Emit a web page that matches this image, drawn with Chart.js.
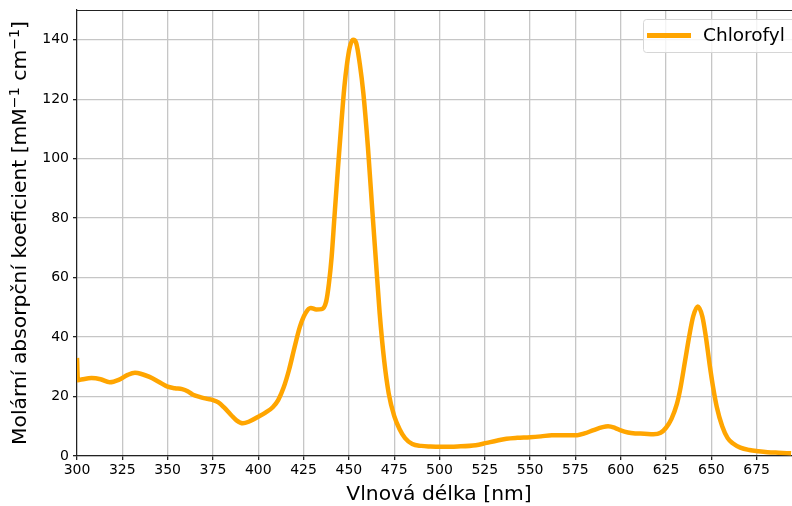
<!DOCTYPE html>
<html>
<head>
<meta charset="utf-8">
<script src="https://cdn.jsdelivr.net/npm/chart.js@4"></script>
<style>
  html, body { margin: 0; padding: 0; background: #fff; }
  #wrap { width: 792px; height: 506px; position: relative; }
</style>
</head>
<body>
<div id="wrap"><canvas id="absChart"></canvas></div>
<script>
// wavelength [nm] and molar absorption coefficient
const wavelengths = [300, 300.5, 303, 308, 313, 318, 323, 328, 332, 336, 340, 345, 350, 354, 358, 361, 364, 368, 372, 375,
  378, 381, 385, 388, 391.5, 395, 400, 404, 408, 411, 414, 417, 420, 423, 426, 429, 432, 435, 437.5, 439,
  440.5, 442, 444, 446, 447.5, 449, 450.5, 452.3, 454, 456, 458, 460.5, 463, 465, 467, 469.5, 472, 475, 478, 481, 485,
  490, 495, 500, 510, 520, 526, 532, 537, 543, 550, 556, 562, 570, 576, 580, 585, 590, 593, 597, 600,
  604, 608, 613, 618, 622, 625, 628, 631, 633, 635.5, 638, 640, 642.5, 645, 647, 649, 651, 653, 656, 659,
  662, 666, 671, 676, 681, 687, 694];
const absorption = [33, 25.5, 25.8, 26.2, 25.8, 24.8, 25.6, 27.3, 28, 27.5, 26.6, 25, 23.3, 22.8, 22.5, 21.8, 20.6, 19.8, 19.2, 18.8,
  18, 16.4, 13.8, 12, 11, 11.6, 13.2, 14.6, 16.4, 18.8, 23, 29, 36.5, 43.5, 48, 49.8, 49.3, 49.4, 52, 58,
  67, 80, 97, 113, 124, 132, 137.5, 140, 139, 132, 122, 104, 82, 65, 48, 32, 21, 13.5, 9, 6, 4,
  3.4, 3.2, 3.1, 3.2, 3.6, 4.4, 5.2, 5.8, 6.1, 6.3, 6.6, 7, 7, 7, 7.6, 8.7, 9.7, 10, 9.4, 8.6,
  7.9, 7.6, 7.5, 7.3, 7.8, 9.5, 12.5, 17.5, 23, 32, 41, 47, 50.3, 47, 40, 31, 23, 16.5, 10, 6,
  4.2, 2.8, 2, 1.6, 1.3, 1.1, 0.9];
const xTicks = [300, 325, 350, 375, 400, 425, 450, 475, 500, 525, 550, 575, 600, 625, 650, 675];
const yTicks = [0, 20, 40, 60, 80, 100, 120, 140];
const seriesName = "Chlorofyl";
const xTitle = "Vlnová délka [nm]";
// y title pieces: [text, superscript?]
const yTitleParts = [["Molární absorpční koeficient [mM", false], ["−1", true], [" cm", false], ["−1", true], ["]", false]];

const FONT = "'DejaVu Sans', sans-serif";
const ORANGE = '#FFA500';
const GRID = '#c6c6c6';
const TITLE_SIZE = 20.3;

// top spine, axis titles (y with real superscripts), matplotlib-like legend box
const framePlugin = {
  id: 'frame',
  afterDraw(chart) {
    const { ctx, chartArea } = chart;
    ctx.save();
    ctx.strokeStyle = '#222';
    ctx.lineWidth = 1.2;
    ctx.beginPath();
    ctx.moveTo(chartArea.left, chartArea.top + 0.5);
    ctx.lineTo(chartArea.right, chartArea.top + 0.5);
    ctx.stroke();

    const big = TITLE_SIZE + 'px ' + FONT;
    const small = (TITLE_SIZE * 0.7).toFixed(1) + 'px ' + FONT;
    ctx.fillStyle = '#000';
    ctx.textBaseline = 'middle';

    // x axis title (the original axes run a little past the cropped right edge)
    ctx.font = big;
    ctx.textAlign = 'center';
    ctx.fillText(xTitle, 439, 495);
    ctx.textAlign = 'left';

    // y axis title
    let total = 0;
    yTitleParts.forEach(([t, sup]) => { ctx.font = sup ? small : big; total += ctx.measureText(t).width; });
    ctx.translate(21, (chartArea.top + chartArea.bottom) / 2);
    ctx.rotate(-Math.PI / 2);
    let x = -total / 2;
    yTitleParts.forEach(([t, sup]) => {
      ctx.font = sup ? small : big;
      ctx.fillText(t, x, sup ? -6 : 0);
      x += ctx.measureText(t).width;
    });
    ctx.setTransform(1, 0, 0, 1, 0, 0);

    // legend
    const bx = 643, by = 19, bw = 160, bh = 33, r = 3;
    ctx.fillStyle = 'rgba(255,255,255,0.8)';
    ctx.strokeStyle = '#d6d6d6';
    ctx.lineWidth = 1;
    ctx.beginPath();
    ctx.roundRect(bx + 0.5, by + 0.5, bw, bh, r);
    ctx.fill();
    ctx.stroke();
    ctx.strokeStyle = ORANGE;
    ctx.lineWidth = 5;
    ctx.beginPath();
    ctx.moveTo(647, 35.5);
    ctx.lineTo(691, 35.5);
    ctx.stroke();
    ctx.fillStyle = '#000';
    ctx.font = '18.5px ' + FONT;
    ctx.fillText(seriesName, 703, 36);
    ctx.restore();
  }
};

const points = wavelengths.map((x, i) => ({ x, y: absorption[i] }));

new Chart(document.getElementById('absChart'), {
  type: 'line',
  data: {
    datasets: [{
      label: seriesName,
      data: points,
      borderColor: ORANGE,
      backgroundColor: ORANGE,
      borderWidth: 4.5,
      pointRadius: 0,
      fill: false,
      cubicInterpolationMode: 'monotone'
    }]
  },
  options: {
    responsive: true,
    maintainAspectRatio: false,
    animation: false,
    layout: { padding: { top: 10, right: 0, left: 0, bottom: 0 } },
    plugins: { legend: { display: false }, tooltip: { enabled: false } },
    scales: {
      x: {
        type: 'linear',
        min: 300,
        max: 694.5,
        afterBuildTicks: scale => { scale.ticks = xTicks.map(v => ({ value: v })); },
        afterFit: scale => { scale.height = 50; scale.paddingLeft = 0; scale.paddingRight = 0; },
        ticks: { color: '#000', font: { family: FONT, size: 14 }, padding: 2, maxRotation: 0 },
        grid: { color: GRID, lineWidth: 1.3, tickLength: 4, tickColor: '#222' },
        border: { color: '#222', width: 1.2 },
        title: { display: false }
      },
      y: {
        min: 0,
        max: 150,
        afterBuildTicks: scale => { scale.ticks = yTicks.map(v => ({ value: v })); },
        afterFit: scale => { scale.width = 77; scale.paddingTop = 0; scale.paddingBottom = 0; },
        ticks: { color: '#000', font: { family: FONT, size: 14 }, padding: 4 },
        grid: { color: GRID, lineWidth: 1.3, tickLength: 4, tickColor: '#222' },
        border: { color: '#222', width: 1.2 },
        title: { display: false }
      }
    }
  },
  plugins: [framePlugin]
});
</script>
</body>
</html>
